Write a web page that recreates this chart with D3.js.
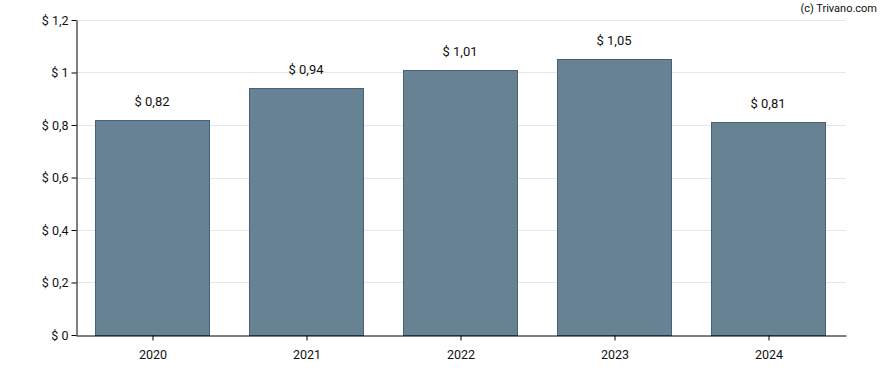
<!DOCTYPE html>
<meta charset="utf-8">
<style>
body { margin: 0; background: #fff; }
text { font-family: Roboto, sans-serif; fill: #111; }
.grid line { stroke: #e6e6e6; }
.bar { fill: #668293; stroke: #46627a; stroke-width: 1; }
</style>
<svg width="888" height="370"></svg>
<script src="https://cdn.jsdelivr.net/npm/d3@7"></script>
<script>
const years = ["2020", "2021", "2022", "2023", "2024"];
const values = [0.82, 0.94, 1.01, 1.05, 0.81];
const yTicks = [0, 0.2, 0.4, 0.6, 0.8, 1, 1.2];

const svg = d3.select("svg");
const plotLeft = 76, plotRight = 846, plotTop = 20, plotBottom = 335;

const x = d3.scaleBand().domain(years).range([plotLeft, plotRight]).paddingInner(0.25).paddingOuter(0.125);
const y = d3.scaleLinear().domain([0, 1.2]).range([plotBottom, plotTop]);

const fmt = v => "$ " + String(+v.toFixed(2)).replace(".", ",");

//gridlines
svg.append("g").attr("class", "grid")
  .selectAll("line").data(yTicks.filter(d => d > 0)).enter()
  .append("line")
    .attr("x1", plotLeft).attr("x2", plotRight)
    .attr("y1", d => Math.round(y(d)) + 0.5).attr("y2", d => Math.round(y(d)) + 0.5);

//bars
svg.selectAll(".bar").data(values).enter()
  .append("rect")
    .attr("class", "bar")
    .attr("x", (d, i) => Math.round(x(years[i])) + 0.5)
    .attr("y", d => Math.round(y(d)) + 0.5)
    .attr("width", Math.round(x.bandwidth()) - 2)
    .attr("height", d => plotBottom - Math.round(y(d)));

//value labels
svg.selectAll(".lbl").data(values).enter()
  .append("text")
    .attr("x", (d, i) => x(years[i]) + x.bandwidth() / 2 - 1)
    .attr("y", d => y(d) - 14)
    .attr("text-anchor", "middle")
    .attr("font-size", 13)
    .text(d => fmt(d));

//axes
const yAxis = svg.append("g")
  .attr("transform", `translate(${plotLeft + 0.5},0)`)
  .call(d3.axisLeft(y).tickValues(yTicks).tickSize(5).tickSizeOuter(0).tickFormat(fmt));
const xAxis = svg.append("g")
  .attr("transform", `translate(0,${plotBottom + 0.5})`)
  .call(d3.axisBottom(x).tickSize(5).tickSizeOuter(0));
[yAxis, xAxis].forEach(a => {
  a.select(".domain").attr("stroke", "#000");
  a.selectAll(".tick line").attr("stroke", "#000");
  a.selectAll("text").attr("font-family", "Roboto, sans-serif").attr("font-size", 12.5).attr("fill", "#111");
});
xAxis.selectAll("text").attr("dy", "1.2em");
yAxis.selectAll("text").attr("x", -8);

svg.append("text")
  .attr("x", 877).attr("y", 12)
  .attr("text-anchor", "end")
  .attr("font-size", 11)
  .text("(c) Trivano.com");
</script>
